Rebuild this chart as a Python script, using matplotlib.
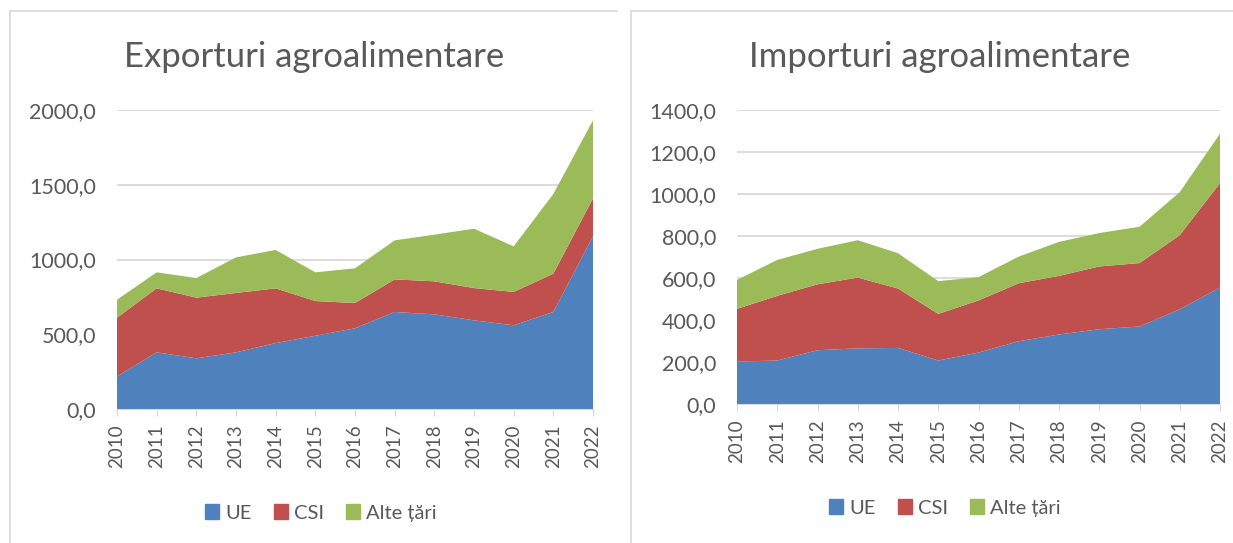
"""Exporturi / importuri agroalimentare, stacked areas 2010-2022."""

import matplotlib
matplotlib.use("Agg")

import matplotlib.pyplot as plt
from matplotlib.lines import Line2D
from matplotlib.patches import Patch

plt.rcParams["font.family"] = ["Lato", "DejaVu Sans"]

years = [2010, 2011, 2012, 2013, 2014, 2015, 2016, 2017, 2018, 2019, 2020, 2021, 2022]
series_names = ["UE", "CSI", "Alte țări"]

export_ue = [218, 379, 339, 379, 441, 490, 540, 649, 633, 593, 560, 649, 1155]
export_csi = [393, 428, 406, 397, 366, 232, 169, 218, 221, 216, 223, 256, 254]
export_alte = [120, 107, 131, 238, 257, 192, 232, 261, 312, 397, 305, 533, 522]

import_ue = [202, 207, 256, 265, 267, 207, 245, 299, 331, 356, 369, 451, 555]
import_csi = [251, 308, 314, 337, 283, 222, 248, 276, 279, 299, 302, 353, 497]
import_alte = [138, 171, 169, 178, 168, 156, 111, 127, 162, 159, 173, 205, 235]

colors = ["#4f81bd", "#c0504d", "#9bbb59"]
text_col = "#595959"
grid_col = "#d9d9d9"


def fmt(v):
    return f"{v:.1f}".replace(".", ",")


def draw_panel(fig, rect, title, data, ymax, step, title_xy, legend_xy):
    ax = fig.add_axes(rect)
    ax.stackplot(years, *data, colors=colors, linewidth=0)
    ax.set_xlim(years[0], years[-1])
    ax.set_ylim(0, ymax)
    yt = list(range(0, ymax + 1, step))
    ax.set_yticks(yt)
    ax.set_yticklabels([fmt(v) for v in yt], fontsize=15.5, color=text_col)
    ax.set_xticks(years)
    ax.set_xticklabels([str(y) for y in years], rotation=90, fontsize=13.5, color=text_col)
    ax.tick_params(axis="y", length=0, pad=15)
    ax.tick_params(axis="x", length=5, color=grid_col, pad=6)
    for s in ["top", "right", "left"]:
        ax.spines[s].set_visible(False)
    ax.spines["bottom"].set_color(grid_col)
    ax.yaxis.grid(True, color=grid_col, linewidth=1.3)
    ax.set_axisbelow(True)
    fig.text(title_xy[0], title_xy[1], title, fontsize=25, color=text_col,
             ha="center", va="center")
    handles = [Patch(color=c) for c in colors]
    fig.legend(handles, series_names, loc="center", bbox_to_anchor=legend_xy,
               ncol=3, frameon=False, fontsize=14.5, labelcolor=text_col,
               handlelength=0.7, handleheight=0.7, handletextpad=0.3,
               columnspacing=1.1)
    return ax


fig = plt.figure(figsize=(12.33, 5.43), dpi=100)
W, H = 1233, 543

draw_panel(fig, [117 / W, 1 - 409 / H, (593 - 117) / W, (409 - 110) / H],
           "Exporturi agroalimentare",
           [export_ue, export_csi, export_alte], 2000, 500,
           (314 / W, 1 - 57 / H), (321 / W, 1 - 513 / H))
draw_panel(fig, [737 / W, 1 - 404 / H, (1220 - 737) / W, (404 - 110) / H],
           "Importuri agroalimentare",
           [import_ue, import_csi, import_alte], 1400, 200,
           (940 / W, 1 - 57 / H), (945 / W, 1 - 508 / H))

# chart frames (light grey borders)
border = "#d9d9d9"
for x0, x1 in [(10, 617), (631, W)]:
    fig.add_artist(Line2D([x0 / W, x1 / W], [1 - 11 / H, 1 - 11 / H], color=border, lw=1.2))
    fig.add_artist(Line2D([x0 / W, x0 / W], [0, 1 - 11 / H], color=border, lw=1.2))

fig.savefig("out.png", dpi=100)
plt.close(fig)
